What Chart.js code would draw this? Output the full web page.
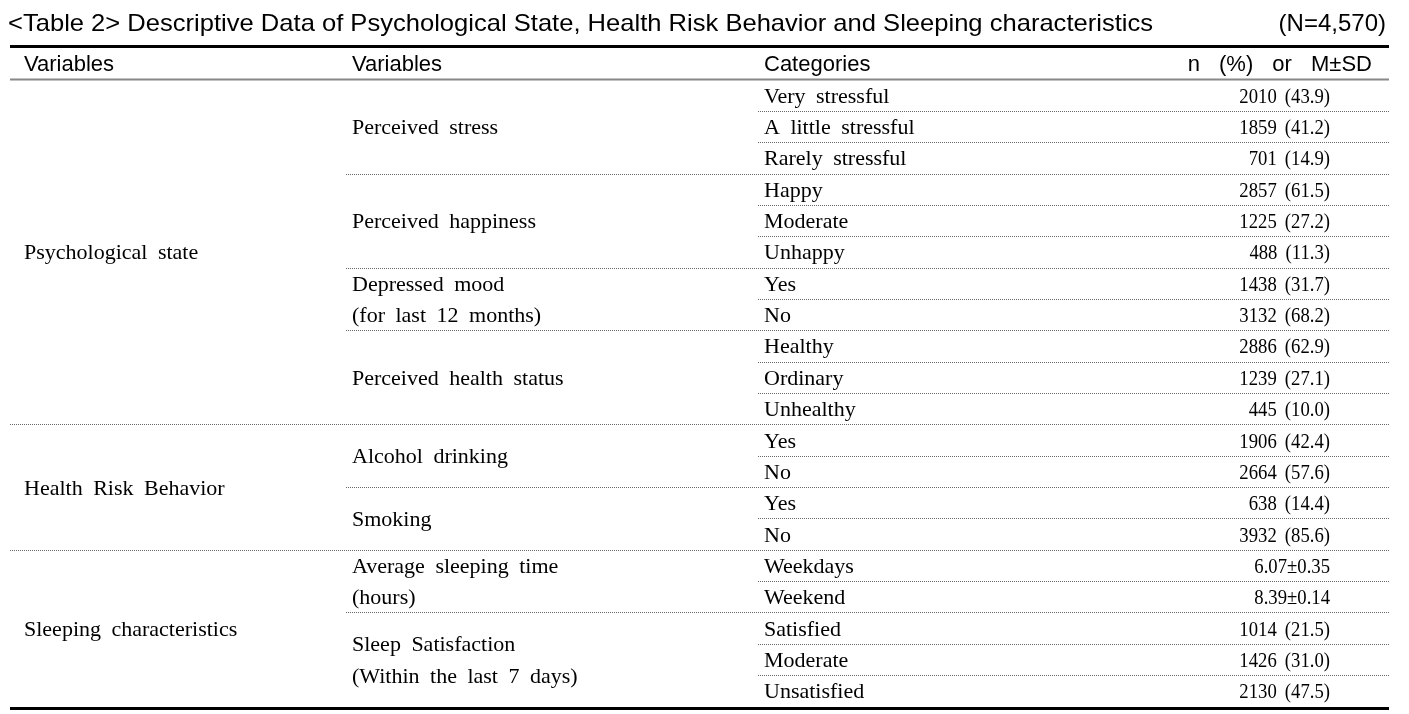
<!DOCTYPE html>
<html>
<head>
<meta charset="utf-8">
<script src="https://cdn.jsdelivr.net/npm/chart.js@4/dist/chart.umd.min.js"></script>
<style>
html,body{margin:0;padding:0;background:#fff;}
#wrap{width:1409px;height:714px;}
</style>
</head>
<body>
<div id="wrap"><canvas id="c" width="1409" height="714"></canvas></div>
<script>
// ---- data ----
const titleText = '<Table 2> Descriptive Data of Psychological State, Health Risk Behavior and Sleeping characteristics';
const sampleText = '(N=4,570)';
const headerLabels = ['Variables', 'Variables', 'Categories', 'n (%) or M\u00B1SD'];

const groupLabels = ['Psychological state', 'Health Risk Behavior', 'Sleeping characteristics'];
const groupSpans = [11, 4, 5];

const variableLabels = [
  ['Perceived stress'],
  ['Perceived happiness'],
  ['Depressed mood', '(for last 12 months)'],
  ['Perceived health status'],
  ['Alcohol drinking'],
  ['Smoking'],
  ['Average sleeping time', '(hours)'],
  ['Sleep Satisfaction', '(Within the last 7 days)']
];
const variableSpans = [3, 3, 2, 3, 2, 2, 2, 3];

const categories = [
  'Very stressful', 'A little stressful', 'Rarely stressful',
  'Happy', 'Moderate', 'Unhappy',
  'Yes', 'No',
  'Healthy', 'Ordinary', 'Unhealthy',
  'Yes', 'No',
  'Yes', 'No',
  'Weekdays', 'Weekend',
  'Satisfied', 'Moderate', 'Unsatisfied'
];
const counts = [2010, 1859, 701, 2857, 1225, 488, 1438, 3132, 2886, 1239, 445, 1906, 2664, 638, 3932, null, null, 1014, 1426, 2130];
const percents = [43.9, 41.2, 14.9, 61.5, 27.2, 11.3, 31.7, 68.2, 62.9, 27.1, 10.0, 42.4, 57.6, 14.4, 85.6, null, null, 21.5, 31.0, 47.5];
const means = [null, null, null, null, null, null, null, null, null, null, null, null, null, null, null, 6.07, 8.39, null, null, null];
const sds = [null, null, null, null, null, null, null, null, null, null, null, null, null, null, null, 0.35, 0.14, null, null, null];

// ---- helpers ----
function valueText(i) {
  if (counts[i] !== null) return counts[i] + ' (' + percents[i].toFixed(1) + ')';
  return means[i].toFixed(2) + '\u00B1' + sds[i].toFixed(2);
}

function drawWords(ctx, text, x, y, align, extra, sx) {
  const words = text.split(' ');
  const spaceW = ctx.measureText(' ').width + extra;
  let total = 0;
  const widths = words.map(w => ctx.measureText(w).width);
  widths.forEach(w => total += w);
  total += spaceW * (words.length - 1);
  const tw = total * sx;
  let sxPos = x;
  if (align === 'right') sxPos = x - tw;
  else if (align === 'center') sxPos = x - tw / 2;
  ctx.save();
  ctx.translate(sxPos, y);
  ctx.scale(sx, 1);
  ctx.textAlign = 'left';
  let cur = 0;
  words.forEach((w, k) => {
    ctx.fillText(w, cur, 0);
    cur += widths[k] + spaceW;
  });
  ctx.restore();
}

function fitText(ctx, text, x, y, width) {
  const w = ctx.measureText(text).width;
  ctx.save();
  ctx.translate(x, y);
  ctx.scale(width / w, 1);
  ctx.textAlign = 'left';
  ctx.fillText(text, 0, 0);
  ctx.restore();
}

function hline(ctx, x1, x2, y, width, color, dash) {
  ctx.save();
  ctx.beginPath();
  ctx.lineWidth = width;
  ctx.strokeStyle = color;
  ctx.setLineDash(dash || []);
  ctx.moveTo(x1, y);
  ctx.lineTo(x2, y);
  ctx.stroke();
  ctx.restore();
}

const tablePlugin = {
  id: 'tablePlugin',
  afterDraw(chart) {
    const ctx = chart.ctx;
    const ys = chart.scales.y;
    const area = chart.chartArea;
    const rowH = ys.getPixelForValue(1) - ys.getPixelForValue(0);
    const rowTop = i => ys.getPixelForValue(i) - rowH / 2;
    const L = area.left, R = area.right;
    const col1 = 24, col2 = 352, col3 = 764, colNum = 1330, headNumRight = 1372;
    const varLineX = 346, catLineX = 758;

    ctx.fillStyle = '#000';
    ctx.textBaseline = 'alphabetic';

    // title
    ctx.font = '24px "Liberation Sans", Arial, sans-serif';
    fitText(ctx, titleText, 8, 31, 1145);
    ctx.textAlign = 'right';
    ctx.fillText(sampleText, 1386, 31);

    // rules
    hline(ctx, L, R, 46.5, 3, '#000');
    hline(ctx, L, R, Math.round(rowTop(0)) - 0.5, 2, '#888');
    hline(ctx, L, R, Math.round(rowTop(categories.length)) + 1.5, 3, '#000');

    // header
    ctx.font = '22px "Liberation Sans", Arial, sans-serif';
    const hy = 71;
    drawWords(ctx, headerLabels[0], col1, hy, 'left', 0, 1);
    drawWords(ctx, headerLabels[1], col2, hy, 'left', 0, 1);
    drawWords(ctx, headerLabels[2], col3, hy, 'left', 0, 1);
    drawWords(ctx, headerLabels[3], headNumRight, hy, 'right', 13, 1);

    // category dotted lines
    const dot = [1, 1];
    for (let i = 1; i < categories.length; i++) {
      const y = Math.round(rowTop(i)) + 0.5;
      hline(ctx, catLineX, R, y, 1, '#666', dot);
    }
    // variable / group dotted lines
    let acc = 0;
    const groupBounds = new Set();
    let g = 0;
    groupSpans.forEach(s => { g += s; groupBounds.add(g); });
    variableSpans.forEach(s => {
      acc += s;
      if (acc < categories.length) {
        const y = Math.round(rowTop(acc)) + 0.5;
        const x1 = groupBounds.has(acc) ? L : varLineX;
        hline(ctx, x1, R, y, 1, '#666', dot);
      }
    });

    const base = 7.5;
    // body text
    ctx.font = '22px "Liberation Serif", "Times New Roman", serif';
    categories.forEach((c, i) => {
      drawWords(ctx, c, col3, ys.getPixelForValue(i) + base, 'left', 5, 1);
    });
    ctx.font = '22px "Liberation Serif", "Times New Roman", serif';
    categories.forEach((c, i) => {
      drawWords(ctx, valueText(i), colNum, ys.getPixelForValue(i) + base, 'right', 4, 0.85);
    });

    // variable labels
    let start = 0;
    variableLabels.forEach((lines, k) => {
      const span = variableSpans[k];
      const center = (rowTop(start) + rowTop(start + span)) / 2;
      lines.forEach((ln, j) => {
        const y = center + (j - (lines.length - 1) / 2) * rowH + base;
        drawWords(ctx, ln, col2, y, 'left', 5, 1);
      });
      start += span;
    });
    // group labels
    start = 0;
    groupLabels.forEach((lab, k) => {
      const span = groupSpans[k];
      const center = (rowTop(start) + rowTop(start + span)) / 2;
      drawWords(ctx, lab, col1, center + base, 'left', 5, 1);
      start += span;
    });
  }
};

new Chart(document.getElementById('c'), {
  type: 'bar',
  data: {
    labels: categories,
    datasets: [{
      label: 'n',
      data: counts,
      backgroundColor: 'rgba(0,0,0,0)',
      borderWidth: 0
    }]
  },
  options: {
    indexAxis: 'y',
    responsive: false,
    animation: false,
    devicePixelRatio: 1,
    layout: { padding: { top: 79.5, bottom: 7.5, left: 10, right: 20 } },
    plugins: { legend: { display: false }, tooltip: { enabled: false }, title: { display: false } },
    scales: {
      y: { type: 'category', display: false, offset: true },
      x: { type: 'linear', display: false, min: 0, max: 5000 }
    }
  },
  plugins: [tablePlugin]
});
</script>
</body>
</html>
